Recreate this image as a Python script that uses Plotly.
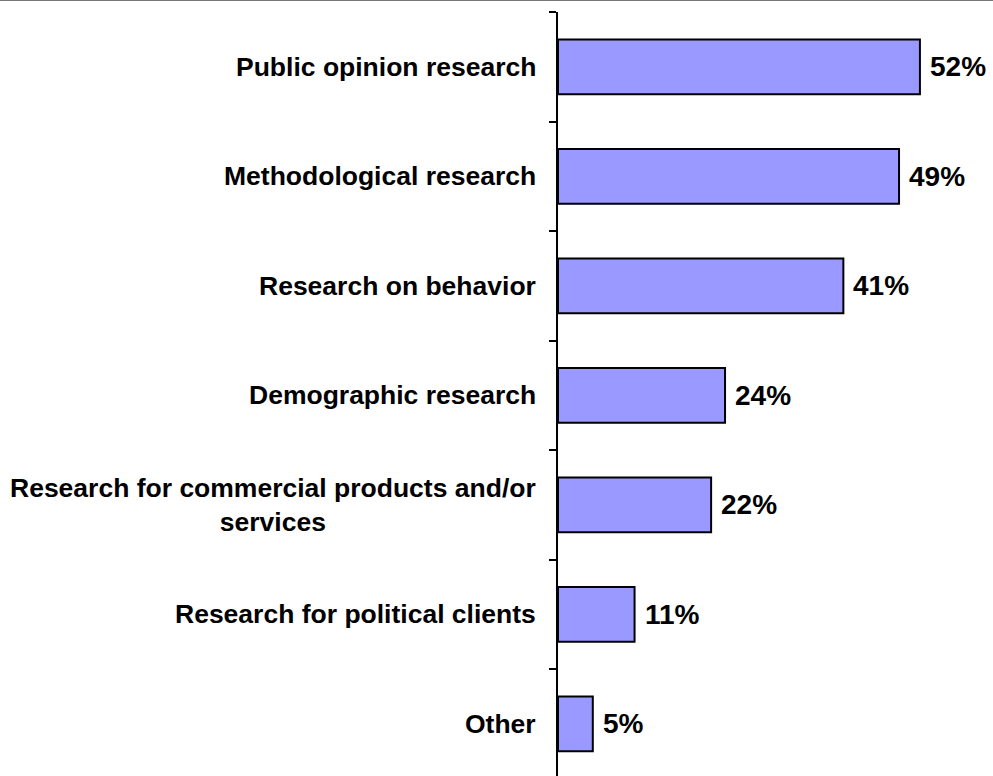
import plotly.graph_objects as go

categories = [
    "Public opinion research",
    "Methodological research",
    "Research on behavior",
    "Demographic research",
    "Research for commercial products and/or<br>services",
    "Research for political clients",
    "Other",
]
values = [52, 49, 41, 24, 22, 11, 5]
value_labels = [f"{v}%" for v in values]

W, H = 993, 776
mt, mb, ml, mr = 12, 0, 558, 0
plot_h = H - mt - mb

fig = go.Figure()
fig.add_trace(go.Bar(
    x=values, y=categories, orientation="h",
    marker=dict(color="#9999FF", line=dict(color="black", width=2)),
    width=0.5, hoverinfo="skip",
))

annotations = []
for c, v, t in zip(categories, values, value_labels):
    annotations.append(dict(
        x=0, y=c, xref="x", yref="y", text=f"<b>{c}</b>", showarrow=False,
        xanchor="right", yanchor="middle", align="center", xshift=-20,
        font=dict(family="Liberation Sans, Arial", size=26.5, color="black"),
    ))
    annotations.append(dict(
        x=v, y=c, xref="x", yref="y", text=f"<b>{t}</b>", showarrow=False,
        xanchor="left", yanchor="middle", xshift=8,
        font=dict(family="Liberation Sans, Arial", size=28, color="black"),
    ))

fig.update_layout(
    width=W, height=H,
    margin=dict(l=ml, r=mr, t=mt, b=mb, pad=0),
    paper_bgcolor="white", plot_bgcolor="white",
    showlegend=False,
    xaxis=dict(range=[0, 62.5], visible=False, fixedrange=True),
    yaxis=dict(
        type="category", categoryorder="array", categoryarray=categories,
        range=[6.477, -0.5], tickson="boundaries", ticks="outside",
        ticklen=7, tickwidth=2, tickcolor="black", showticklabels=False,
        showline=True, linecolor="black", linewidth=2, showgrid=False,
        zeroline=False, fixedrange=True,
    ),
    annotations=annotations,
    shapes=[dict(type="line", xref="paper", yref="paper",
                 x0=-ml / (W - ml - mr), x1=1, y0=1 + 11.5 / plot_h, y1=1 + 11.5 / plot_h,
                 line=dict(color="#777777", width=1.2))],
)

fig.write_html("out.html")
